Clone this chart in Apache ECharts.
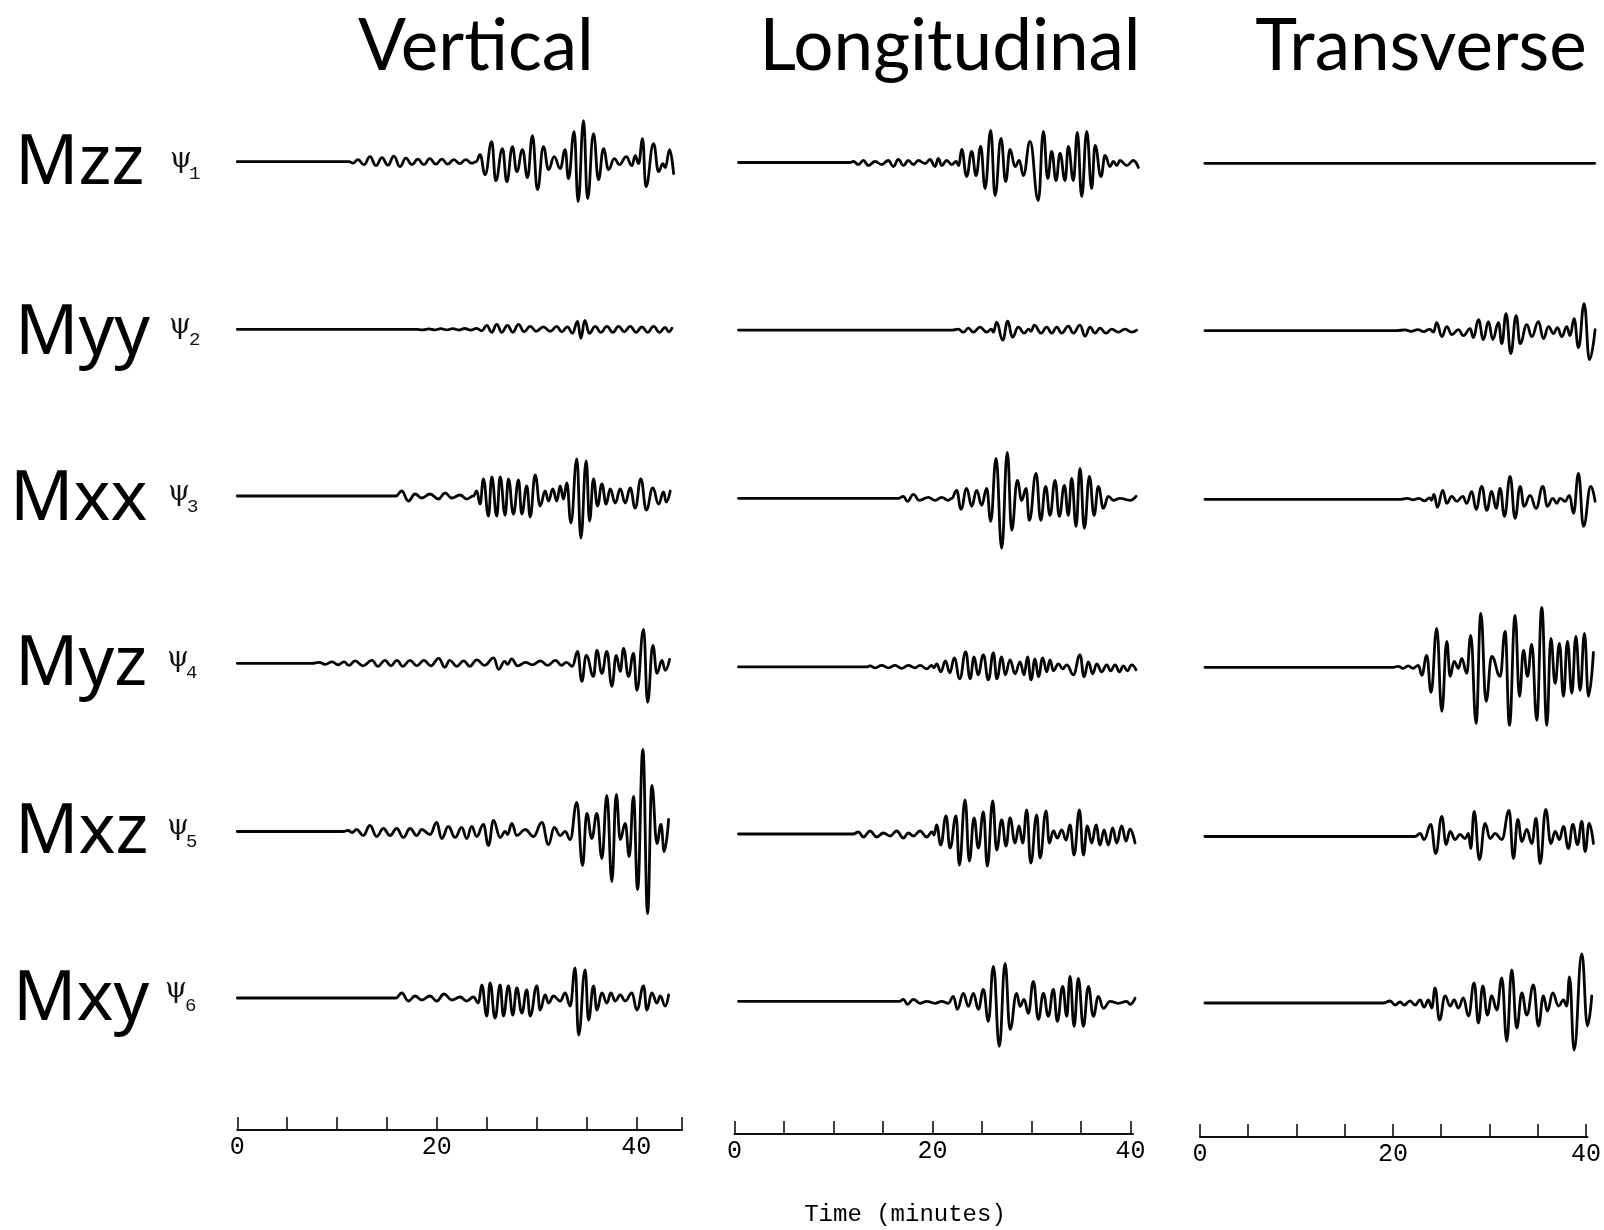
<!DOCTYPE html>
<html>
<head>
<meta charset="utf-8">
<script src="https://cdn.jsdelivr.net/npm/echarts@6/dist/echarts.min.js"></script>
<style>
  html, body { margin: 0; padding: 0; background: #fff; }
  #chart { width: 1604px; height: 1230px; }
</style>
</head>
<body>
<div id="chart"></div>
<script>
// Components (columns) and moment-tensor sources (rows)
const components = ['Vertical', 'Longitudinal', 'Transverse'];
const sources = ['Mzz', 'Myy', 'Mxx', 'Myz', 'Mxz', 'Mxy'];
const tickLabels = [0, 20, 40];
const tickMinutesLong = [0, 5, 10, 15, 20, 25, 30, 35, 40, 44.6];
const tickMinutes = [0, 5, 10, 15, 20, 25, 30, 35, 40];

// Seismogram traces: [time (min), relative amplitude]
const vertMzz = [[0,0],[11.2,0],[11.6,-1.5],[12.1,2],[12.7,-3],[13.3,5],[13.9,-4],[14.5,4],[15.1,-3.5],[15.7,5.5],[16.3,-5],[16.9,3.5],[17.5,-3],[18.1,2.5],[18.7,-3],[19.3,3],[19.9,-2.5],[20.5,2.5],[21.1,-2.5],[21.7,2],[22.3,-2],[22.9,2],[23.5,-1.5],[23.95,0],
  [24.34,7],[24.84,-13],[25.51,20],[25.91,-19],[26.58,13],[27.02,-20],[27.58,15],[28.02,-10],[28.59,12],[29.09,-16],[29.59,26],[30.09,-28],[30.69,15],[31.2,-8],[31.77,5],[32.37,-7],[32.87,12],[33.2,-17],[33.77,30],[34.17,-40],[34.71,41],[35.11,-37],[35.71,28],[36.21,-18],[36.71,13],[37.22,-8],[37.79,3],[38.32,-3],[38.99,5],[39.56,-4],[39.89,6],[40.23,-2],[40.63,23],[40.96,-25],[41.73,18],[42.23,-10],[42.67,-2],[42.9,-6],[43.34,12],[43.74,-12]];
const vertMyy = [[0,0],[18,0],[18.6,-0.5],[19.2,0.5],[19.8,-0.6],[20.4,0.6],[21.0,-0.6],[21.6,0.7],[22.2,-0.7],[22.8,0.8],[23.4,-0.8],[24.0,1],[24.5,-1.5],
  [25.01,4],[25.51,-3],[26.01,5],[26.51,-3],[27.08,4],[27.62,-3],[28.19,5],[28.75,-2.5],[29.36,3],[29.96,-2],[30.69,2.5],[31.36,-2],[32.03,3],[32.53,-2.5],[33.1,2.5],[33.6,-4],[34.11,8],[34.44,-9],[34.84,9],[35.28,-4],[35.88,3],[36.45,-3],[37.05,3],[37.65,-3],[38.22,3],[38.79,-2.5],[39.39,3],[39.99,-3],[40.56,2.5],[41.13,-3],[41.73,3],[42.33,-3],[42.9,2],[43.24,-2.5],[43.57,1]];
const vertMxx = [[0,0],[15.9,0],[16.48,5],[17.15,-5],[17.82,2],[18.49,-2],[19.32,2],[20.16,-3],[20.83,3],[21.5,-2],[22.33,1],[23.0,-3],[23.67,0],
  [24.0,5],[24.34,-8],[24.67,17],[25.18,-20],[25.51,19],[26.01,-20],[26.35,19],[26.85,-19],[27.18,17],[27.68,-18],[28.19,16],[28.52,-18],[29.02,10],[29.36,-21],[29.86,21],[30.36,-10],[30.86,5],[31.2,-5],[31.63,7],[32.03,-5],[32.37,10],[32.7,-3],[33.04,13],[33.44,-27],[34.04,37],[34.44,-42],[34.98,35],[35.31,-25],[35.71,17],[36.11,-10],[36.55,12],[36.98,-8],[37.38,7],[37.89,-7],[38.39,7],[38.89,-7],[39.39,8],[39.89,-12],[40.46,17],[41.0,-14],[41.66,8],[42.23,-8],[42.73,4],[43.0,-6],[43.4,5]];
const vertMyz = [[0,0],[7.5,0],[8.2,1],[8.8,-1],[9.5,1.5],[10.1,-1.5],[10.7,1.5],[11.2,-2],[11.8,2.5],[12.6,-2.5],[13.5,3],[14.1,-3],[14.8,3],[15.4,-2.5],[16.0,3],[16.6,-3],[17.3,3],[18.0,-2.5],[18.7,3],[19.4,-2.5],[20.2,5],[20.8,-4],[21.3,3],[22.0,-3],[22.7,2.5],[23.3,-3],[24.0,3.5],[24.8,-2],[25.7,5.5],[26.2,-6],[26.8,2],[27.1,-1],[27.5,4.5],[28.1,-2.5],[28.9,1],[29.6,-1.5],[30.4,2.5],[31.1,-2],[31.9,3],[32.5,-2],[33.0,1],[33.6,-3],
  [34.11,12],[34.54,-18],[34.98,8],[35.71,-13],[36.05,13],[36.55,-10],[37.05,12],[37.55,-23],[37.99,8],[38.39,-8],[38.72,15],[39.22,-13],[39.72,10],[40.06,-27],[40.73,34],[41.13,-39],[41.66,18],[42.07,-10],[42.57,3],[42.9,-7],[43.34,4]];
const vertMxz = [[0,0],[10.6,0],[11.1,1],[11.5,-1],[11.97,2],[12.63,-4],[13.3,6],[13.97,-5],[14.64,3],[15.31,-4],[15.98,3],[16.65,-6],[17.32,3],[17.99,-4],[18.49,2],[19.32,-3],[19.99,9],[20.49,-7],[21.16,5],[21.83,-6],[22.5,4],[23.0,-7],[23.5,5],[24.0,-5],[24.67,7],[25.18,-14],[25.68,11],[26.35,-6],[26.85,0],[27.1,-3],[27.52,8],[28.02,-4],[28.86,2],[29.69,-5],[30.53,9],[31.2,-13],[31.77,4],[32.37,-4],[32.87,0],[33.37,-8],
  [34.04,29],[34.61,-34],[35.04,18],[35.54,-7],[36.05,18],[36.55,-27],[37.05,36],[37.55,-50],[37.99,37],[38.39,-8],[38.89,8],[39.29,-25],[39.72,35],[40.13,-58],[40.66,82],[41.13,-82],[41.56,46],[42.07,-12],[42.47,7],[42.8,-20],[43.24,12]];
const vertMxy = [[0,0],[15.9,0],[16.48,5],[17.15,-3],[17.82,2],[18.49,-2],[19.32,2],[19.99,-3],[20.73,4],[21.5,-2],[22.33,1],[23.0,-3],[23.67,1],[24.17,-5],[24.51,13],[25.01,-18],[25.34,15],[25.84,-20],[26.35,13],[26.68,-18],[27.18,12],[27.62,-17],[28.02,10],[28.52,-15],[29.02,8],[29.36,-18],[30.03,12],[30.36,-12],[30.86,3],[31.2,-5],[31.7,2],[32.37,-3],[32.87,5],[33.37,-8],[33.87,30],[34.21,-37],[34.87,28],[35.21,-22],[35.71,12],[36.05,-12],[36.55,5],[37.05,-5],[37.45,5],[37.89,-3],[38.39,3],[38.89,-3],[39.56,5],[40.06,-12],[40.73,12],[41.06,-12],[41.56,5],[42.07,-5],[42.4,2],[42.9,-8],[43.24,3]];

const longMzz = [[0.4,0],[11.67,0],[12.01,1],[12.51,-2],[13.02,2],[13.52,-3],[14.2,1],[14.87,-2],[15.54,2],[16.05,-4],[16.55,3],[17.06,-3],[17.56,2],[18.07,-2],[18.57,2],[19.25,-1],[19.75,3],[20.26,-4],[20.59,4],[20.93,-3],[21.43,2],[21.94,-2],[22.4,1],[22.65,-3],
  [22.95,13],[23.45,-14],[23.96,11],[24.4,-13],[24.87,16],[25.31,-26],[25.88,32],[26.32,-33],[26.92,24],[27.39,-19],[27.83,13],[28.34,-4],[28.77,2],[29.18,-13],[29.85,21],[30.69,-38],[31.2,31],[31.64,-16],[32.04,11],[32.48,-18],[32.88,9],[33.39,-18],[33.72,16],[34.23,-18],[34.63,30],[35.07,-34],[35.58,31],[36.08,-26],[36.42,17],[37.02,-14],[37.43,7],[37.93,-4],[38.27,1],[38.61,-3],[38.94,2],[39.62,-3],[40.29,2],[40.8,-5]];
const longMyy = [[0.4,0],[22.0,0],[22.61,1],[23.12,-2],[23.62,2],[24.13,-2],[24.8,3],[25.47,-2],[25.95,1],[26.15,-2],[26.48,8],[27.09,-10],[27.6,9],[28.07,-7],[28.67,3],[29.25,-3],[29.7,1],[29.95,-1],[30.29,5],[30.96,-3],[31.54,3],[32.04,-3],[32.55,3],[33.05,-3],[33.72,4],[34.23,-3],[34.9,5],[35.41,-6],[35.91,3],[36.42,-3],[36.92,2],[37.53,-3],[38.1,1],[38.77,-2],[39.45,1],[40.12,-2],[40.63,0]];
const longMxx = [[0.4,0],[16.55,0],[17.06,2],[17.46,-3],[18.07,4],[18.67,-2],[19.58,1],[20.26,-2],[20.93,1],[21.6,-2],[21.94,0],
  [22.44,8],[22.88,-11],[23.45,10],[23.96,-8],[24.46,8],[24.97,-7],[25.47,10],[25.88,-23],[26.42,40],[26.99,-50],[27.56,46],[28.0,-32],[28.57,18],[29.01,-2],[29.45,10],[29.78,-22],[30.46,25],[30.93,-22],[31.43,12],[31.87,-17],[32.38,18],[32.81,-18],[33.32,13],[33.72,-17],[34.06,20],[34.5,-28],[34.9,30],[35.34,-30],[35.85,22],[36.32,-17],[36.75,12],[37.26,-10],[37.76,2],[38.27,-2],[38.94,0],[39.95,-2],[40.56,2]];
const longMyz = [[0.4,0],[13.4,0],[13.69,1],[14.2,-1],[14.87,1.5],[15.54,-1],[16.22,1.5],[16.89,-1.5],[17.56,1.5],[18.24,-1],[18.74,1.5],[19.41,-2],[19.92,1.5],[20.15,-1],
  [20.42,3],[20.85,-5],[21.3,6],[21.75,-6],[22.2,9],[22.75,-12],[23.35,15],[23.8,-12],[24.2,10],[24.6,-8],[25.14,12],[25.64,-13],[26.15,14],[26.5,-12],[26.99,10],[27.35,-8],[27.83,7],[28.34,-7],[28.84,5],[29.25,-8],[29.6,10],[29.95,-13],[30.36,8],[30.7,-10],[31.13,9],[31.54,-5],[31.87,7],[32.21,-4],[32.71,3],[33.15,-2],[33.56,2],[34.23,-8],[34.9,12],[35.31,-10],[35.74,5],[36.18,-7],[36.59,3],[37.09,-5],[37.6,2],[38.0,-4],[38.44,2],[38.88,-5],[39.28,1],[39.68,-4],[40.12,2],[40.56,-3]];
const longMxz = [[0.4,0],[12.0,0],[12.51,2],[13.02,-3],[13.69,3],[14.36,-3],[15.04,1],[15.71,-2],[16.38,3],[17.06,-4],[17.56,1],[18.07,-2],[18.74,3],[19.41,-3],[19.95,2],[20.15,-1],
  [20.42,9],[20.83,-11],[21.37,18],[21.77,-14],[22.38,18],[22.71,-31],[23.29,34],[23.72,-27],[24.2,16],[24.63,-14],[25.14,22],[25.54,-32],[26.08,33],[26.48,-16],[26.99,14],[27.43,-12],[27.83,16],[28.34,-9],[28.74,8],[29.11,-9],[29.52,24],[29.92,-29],[30.53,19],[30.86,-24],[31.47,23],[31.8,-9],[32.21,3],[32.61,-4],[33.05,4],[33.49,-6],[33.89,9],[34.3,-21],[34.84,24],[35.24,-21],[35.64,8],[36.08,-9],[36.52,9],[36.92,-11],[37.33,4],[37.76,-11],[38.2,6],[38.61,-9],[39.11,8],[39.55,-7],[39.95,5],[40.46,-9]];
const longMxy = [[0.4,0],[16.7,0],[17.06,2],[17.46,-3],[18.07,2],[18.74,-2],[19.41,0],[20.26,-2],[20.93,0],[21.6,-2],
  [22.11,5],[22.51,-8],[23.12,8],[23.62,-5],[24.13,8],[24.63,-8],[25.14,12],[25.64,-20],[26.15,35],[26.75,-45],[27.33,38],[27.83,-28],[28.5,8],[28.84,-5],[29.25,2],[29.68,-12],[30.19,20],[30.69,-18],[31.2,8],[31.7,-15],[32.21,12],[32.61,-20],[33.15,15],[33.56,-15],[33.89,25],[34.3,-25],[34.73,23],[35.24,-25],[35.74,15],[36.25,-15],[36.75,5],[37.26,-7],[37.93,0],[38.77,-2],[39.62,0],[39.95,-3],[40.46,3]];

const tranMzz = [[0.5,0],[10,0],[20,0],[30,0],[40.4,0]];
const tranMyy = [[0.5,0],[20.1,0],[21.0,0.7],[21.6,-0.7],[22.3,1],[22.9,-1],[23.5,1.5],[23.9,-1.5],
  [24.23,8],[24.75,-6],[25.26,4],[25.77,-4],[26.45,1],[26.96,-5],[27.65,2],[27.99,-7],[28.5,11],[29.01,-9],[29.52,9],[29.97,-9],[30.55,8],[30.89,-13],[31.33,17],[31.81,-23],[32.36,15],[32.77,-13],[33.45,6],[33.96,-6],[34.64,9],[35.15,-8],[35.67,4],[36.18,-3],[36.59,3],[37.03,-6],[37.54,4],[37.88,-5],[38.29,12],[38.74,-17],[39.32,27],[39.86,-29],[40.44,1]];
const tranMxx = [[0.5,0],[20.5,0],[21.2,1],[21.8,-0.5],[22.4,1],[23.0,-1.5],[23.5,1.5],[23.7,-1],
  [23.95,5],[24.3,-8],[24.85,9],[25.26,-4],[25.77,3],[26.28,-2],[26.9,3],[27.3,-4],[27.82,8],[28.26,-10],[28.84,13],[29.35,-11],[29.86,8],[30.31,-9],[30.72,11],[31.16,-17],[31.74,23],[32.25,-19],[32.77,13],[33.17,-7],[33.79,4],[34.4,-9],[35.09,13],[35.56,-7],[36.11,1],[36.52,-4],[36.86,1],[37.37,-2],[37.82,4],[38.23,-14],[38.74,26],[39.25,-27],[40.0,13],[40.44,-2]];
const tranMyz = [[0.5,0],[19.8,0],[20.3,1],[20.8,-1],[21.3,1.5],[21.8,-1],
  [22.36,2],[22.7,-8],[23.21,12],[23.65,-25],[24.23,39],[24.75,-44],[25.26,26],[25.6,-9],[26.01,6],[26.45,-1],[26.79,9],[27.3,-6],[27.71,32],[28.26,-56],[28.74,54],[29.28,-34],[29.86,11],[30.72,-9],[31.23,36],[31.67,-58],[32.25,52],[32.7,-29],[33.11,17],[33.52,-9],[33.96,23],[34.47,-53],[34.98,60],[35.5,-58],[35.91,29],[36.35,-16],[36.79,24],[37.2,-29],[37.61,26],[38.06,-26],[38.47,31],[38.91,-23],[39.35,34],[39.76,-29],[40.27,15]];
const tranMxz = [[0.5,0],[22.0,0],[22.53,3],[22.94,-3],[23.62,12],[24.13,-17],[24.75,20],[25.19,-8],[25.6,5],[26.11,-3],[26.62,2],[27.13,-2],[27.48,3],[27.71,-12],[28.06,25],[28.6,-23],[29.18,13],[29.69,-2],[30.21,3],[30.89,-3],[31.64,26],[32.08,-22],[32.53,17],[32.94,-5],[33.45,7],[33.96,-7],[34.4,18],[34.81,-27],[35.39,27],[35.91,-7],[36.35,5],[36.79,-3],[37.2,10],[37.71,-12],[38.16,12],[38.64,-8],[39.08,15],[39.42,-15],[39.83,13],[40.27,-7]];
const tranMxy = [[0.5,0],[18.77,0],[19.46,2],[19.97,-2],[20.48,1],[20.89,-2],[21.5,2],[22.02,-2],[22.53,3],[22.94,-4],[23.38,3],[23.72,-5],
  [24.06,15],[24.51,-17],[25.09,7],[25.6,-3],[26.01,3],[26.45,-5],[26.96,5],[27.48,-13],[28.06,20],[28.5,-20],[28.94,17],[29.42,-12],[29.86,7],[30.38,-7],[30.89,25],[31.4,-38],[31.91,33],[32.42,-25],[32.94,10],[33.45,-12],[34.13,18],[34.64,-23],[35.15,7],[35.56,-8],[36.11,10],[36.69,-3],[37.2,3],[37.54,-3],[37.82,26],[38.29,-47],[39.08,49],[39.66,-23],[40.1,7]];

const traces = [
  [vertMzz, vertMyy, vertMxx, vertMyz, vertMxz, vertMxy],
  [longMzz, longMyy, longMxx, longMyz, longMxz, longMxy],
  [tranMzz, tranMyy, tranMxx, tranMyz, tranMxz, tranMxy]
];

// Panel geometry (pixels)
const panels = [
  { x0: 237.3, k: 9.975, traceMax: 44.6, axisMax: 44.6, axisY: 1130, ticks: tickMinutesLong, titleX: 476,
    bases: [161.7, 329.3, 496, 663.3, 831.5, 998] },
  { x0: 734.5, k: 9.9, traceMax: 41, axisMax: 40.25, axisY: 1134, ticks: tickMinutes, titleX: 950,
    bases: [162.5, 330.2, 498.3, 666.8, 834, 1001.3] },
  { x0: 1200, k: 9.77, traceMax: 41, axisMax: 40.15, axisY: 1137, ticks: tickMinutes, titleX: 1421,
    bases: [163.3, 330.6, 499.3, 667.3, 836.5, 1003] }
];
const rowLabelPos = [[15, 164.5], [15, 334.5], [10, 500.5], [15, 665.5], [15, 833], [13, 1000]];
const psiPos = [[170, 160, 189, 174], [169, 326, 189, 340], [168, 493, 187, 507], [167, 659, 186, 673], [167, 827, 186, 842], [165, 990, 185, 1006]];

const HALF = 100;
const grid = [], xAxis = [], yAxis = [], series = [];

panels.forEach((p, c) => {
  p.bases.forEach((base, r) => {
    const gi = grid.length;
    grid.push({ left: p.x0, top: base - HALF, width: p.traceMax * p.k, height: HALF * 2 });
    xAxis.push({ gridIndex: gi, type: 'value', min: 0, max: p.traceMax, show: false });
    yAxis.push({ gridIndex: gi, type: 'value', min: -HALF, max: HALF, show: false });
    series.push({
      name: components[c] + ' ' + sources[r],
      type: 'line', xAxisIndex: gi, yAxisIndex: gi,
      data: traces[c][r],
      showSymbol: false, smooth: 0.45, smoothMonotone: 'x',
      lineStyle: { color: '#050505', width: 2.8, join: 'round', cap: 'round' },
      silent: true, clip: false
    });
  });
  // time axis under each column
  const gi = grid.length;
  grid.push({ left: p.x0, top: p.axisY - 20, width: p.axisMax * p.k, height: 20 });
  xAxis.push({
    gridIndex: gi, type: 'value', min: 0, max: p.axisMax, position: 'bottom',
    axisLine: { show: true, onZero: false, lineStyle: { color: '#111', width: 2 } },
    axisTick: { show: true, inside: true, length: 13, customValues: p.ticks, lineStyle: { color: '#111', width: 1.6 } },
    axisLabel: { show: true, customValues: tickLabels, margin: 5, color: '#000',
      fontFamily: 'Liberation Mono', fontSize: 25 },
    splitLine: { show: false }
  });
  yAxis.push({ gridIndex: gi, type: 'value', min: 0, max: 1, show: false });
  series.push({ type: 'line', xAxisIndex: gi, yAxisIndex: gi, data: [], silent: true });
});

const graphic = [];
components.forEach((name, c) => {
  graphic.push({ type: 'text', x: panels[c].titleX, y: 47,
    style: { text: name, font: '71px Lato', fill: '#000', align: 'center', verticalAlign: 'middle' } });
});
sources.forEach((name, r) => {
  graphic.push({ type: 'text', x: rowLabelPos[r][0], y: rowLabelPos[r][1],
    style: { text: name, font: '70px "Noto Sans"', fill: '#000', align: 'left', verticalAlign: 'middle' } });
  const q = psiPos[r];
  graphic.push({ type: 'text', x: q[0], y: q[1],
    style: { text: 'ψ', font: '28px "DejaVu Serif"', fill: '#111', align: 'left', verticalAlign: 'middle' } });
  graphic.push({ type: 'text', x: q[2], y: q[3],
    style: { text: String(r + 1), font: '19px "Liberation Mono"', fill: '#111', align: 'left', verticalAlign: 'middle' } });
});
graphic.push({ type: 'text', x: 905, y: 1215,
  style: { text: 'Time (minutes)', font: '24px "Liberation Mono"', fill: '#000', align: 'center', verticalAlign: 'middle' } });

const chart = echarts.init(document.getElementById('chart'), null, { renderer: 'canvas' });
chart.setOption({
  animation: false,
  backgroundColor: '#fff',
  grid, xAxis, yAxis, series, graphic
});
</script>
</body>
</html>
